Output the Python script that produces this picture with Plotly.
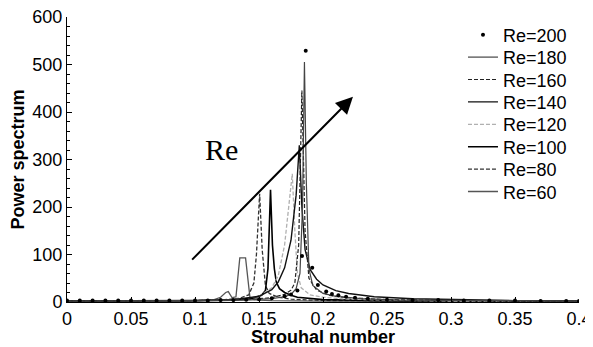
import plotly.graph_objects as go

# ---------------- data ----------------
re200_x = [0, 0.01, 0.02, 0.03, 0.04, 0.05, 0.06, 0.07, 0.08, 0.09, 0.10, 0.11, 0.12, 0.13, 0.14,
           0.15, 0.16, 0.17, 0.175, 0.18, 0.1836, 0.1865, 0.1916, 0.196, 0.2025, 0.207, 0.212,
           0.218, 0.225, 0.235, 0.25, 0.27, 0.29, 0.31, 0.33, 0.35, 0.37, 0.39, 0.40]
re200_y = [3, 3, 3, 3, 3, 3, 3, 3, 3, 3, 3, 3, 4, 4, 5,
           6, 8, 12, 16, 24, 97, 529, 72, 36, 22, 17, 14,
           11, 9, 7, 5, 4, 4, 3, 3, 3, 2, 2, 2]

re180_x = [0, 0.05, 0.10, 0.14, 0.16, 0.17, 0.175, 0.179, 0.182, 0.184, 0.1855, 0.187, 0.189,
           0.192, 0.20, 0.21, 0.23, 0.26, 0.30, 0.35, 0.40]
re180_y = [2, 2, 3, 4, 7, 11, 16, 28, 60, 200, 505, 250, 70,
           35, 18, 12, 7, 4, 3, 2, 2]

re160_x = [0, 0.05, 0.10, 0.14, 0.16, 0.17, 0.175, 0.178, 0.181, 0.1835, 0.186, 0.189,
           0.195, 0.205, 0.22, 0.25, 0.30, 0.35, 0.40]
re160_y = [2, 2, 3, 5, 9, 16, 25, 40, 120, 445, 150, 50,
           25, 14, 9, 5, 3, 2, 2]

re140_x = [0, 0.05, 0.10, 0.13, 0.15, 0.16, 0.165, 0.17, 0.175, 0.179, 0.1815, 0.1835, 0.186,
           0.19, 0.195, 0.20, 0.21, 0.22, 0.24, 0.27, 0.30, 0.35, 0.40]
re140_y = [2, 2, 3, 5, 12, 26, 42, 72, 130, 225, 330, 200, 110,
           68, 48, 36, 24, 18, 11, 7, 5, 3, 2]

re120_x = [0, 0.05, 0.10, 0.13, 0.15, 0.16, 0.165, 0.17, 0.173, 0.176, 0.178, 0.18, 0.183,
           0.19, 0.20, 0.22, 0.25, 0.30, 0.35, 0.40]
re120_y = [2, 2, 3, 5, 12, 30, 55, 120, 200, 270, 150, 60, 30,
           15, 10, 6, 4, 2, 2, 2]

re100_x = [0, 0.05, 0.10, 0.13, 0.145, 0.152, 0.155, 0.157, 0.159, 0.1605, 0.162, 0.1635,
           0.166, 0.17, 0.175, 0.18, 0.19, 0.20, 0.25, 0.30, 0.35, 0.40]
re100_y = [2, 2, 3, 4, 8, 14, 24, 70, 236, 120, 70, 42,
           28, 20, 14, 10, 7, 5, 3, 2, 2, 1]

re80_x = [0, 0.05, 0.10, 0.12, 0.135, 0.142, 0.146, 0.148, 0.1505, 0.1525, 0.155, 0.158,
          0.165, 0.175, 0.19, 0.21, 0.25, 0.30, 0.35, 0.40]
re80_y = [2, 2, 3, 4, 8, 15, 40, 100, 228, 110, 35, 18,
          10, 6, 4, 3, 2, 2, 1, 1]

re60_x = [0, 0.05, 0.10, 0.115, 0.12, 0.124, 0.126, 0.129, 0.132, 0.135, 0.1395, 0.143,
          0.146, 0.15, 0.16, 0.20, 0.25, 0.30, 0.40]
re60_y = [2, 2, 3, 5, 10, 20, 22, 9, 11, 93, 93, 8,
          5, 4, 3, 2, 1, 1, 1]

arrow_start = (0.0966, 86)
arrow_tip = (0.2234, 432)
re_label_pos = (0.1209, 321)

# ---------------- figure ----------------
fig = go.Figure()
DASH = "4px,2px"
FONT = "Liberation Sans, Arial, sans-serif"

# legend slots: Re=200 at top (slot 0) ... Re=60 at bottom (slot 7)
line_series = [
    ("Re=60", re60_x, re60_y, "#555555", "solid", 1.3, 7),
    ("Re=80", re80_x, re80_y, "#333333", DASH, 1.3, 6),
    ("Re=100", re100_x, re100_y, "#000000", "solid", 1.6, 5),
    ("Re=120", re120_x, re120_y, "#b0b0b0", DASH, 1.3, 4),
    ("Re=140", re140_x, re140_y, "#111111", "solid", 1.4, 3),
    ("Re=160", re160_x, re160_y, "#222222", DASH, 1.2, 2),
    ("Re=180", re180_x, re180_y, "#444444", "solid", 1.2, 1),
]


def legend_name(slot):
    return "legend" if slot == 0 else f"legend{slot + 1}"


for name, xs, ys, col, dash, w, slot in line_series:
    fig.add_trace(go.Scatter(x=xs, y=ys, mode="lines", name=name,
                             legend=legend_name(slot),
                             line=dict(color=col, dash=dash, width=w)))

fig.add_trace(go.Scatter(x=re200_x, y=re200_y, mode="markers", name="Re=200",
                         legend=legend_name(0),
                         marker=dict(color="black", size=4)))

fig.add_annotation(x=arrow_tip[0], y=arrow_tip[1], ax=arrow_start[0], ay=arrow_start[1],
                   xref="x", yref="y", axref="x", ayref="y",
                   showarrow=True, arrowhead=2, arrowsize=1.7, arrowwidth=2,
                   arrowcolor="black", text="")
fig.add_annotation(x=re_label_pos[0], y=re_label_pos[1], xref="x", yref="y",
                   text="Re", showarrow=False,
                   font=dict(family="Liberation Serif", size=30, color="black"))

axis_common = dict(showline=True, linecolor="black", linewidth=1, mirror=False,
                   ticks="inside", ticklen=5, tickcolor="black", showgrid=False,
                   zeroline=False, ticklabeloverflow="allow",
                   tickfont=dict(family=FONT, size=18, color="black"))

fig.update_xaxes(range=[0, 0.4], dtick=0.05, tick0=0,
                 title=dict(text="<b>Strouhal number</b>", standoff=0,
                            font=dict(family=FONT, size=18, color="black")),
                 **axis_common)
fig.update_yaxes(range=[0, 600], dtick=100, tick0=0,
                 minor=dict(dtick=20, ticks="inside", ticklen=3, tickcolor="black"),
                 title=dict(text="<b>Power spectrum</b>", standoff=3,
                            font=dict(family=FONT, size=18, color="black")),
                 **axis_common)

# the page body adds an 8px offset; figure is sized so the plot area lands at
# x 67..579 and y 17..302 in the window
legend_layout = {}
for slot in range(8):
    center_px = 27 + slot * 22.4   # relative to figure top
    legend_layout[legend_name(slot)] = dict(
        x=0.7734, y=(294 - center_px) / 285, xanchor="left", yanchor="middle",
        bgcolor="rgba(0,0,0,0)", itemwidth=30,
        font=dict(family=FONT, size=18, color="black"))

fig.update_layout(
    width=585, height=339,
    margin=dict(l=59, r=14, t=9, b=45, autoexpand=False),
    paper_bgcolor="white", plot_bgcolor="white",
    showlegend=True,
    **legend_layout,
)

fig.write_html("out.html")
